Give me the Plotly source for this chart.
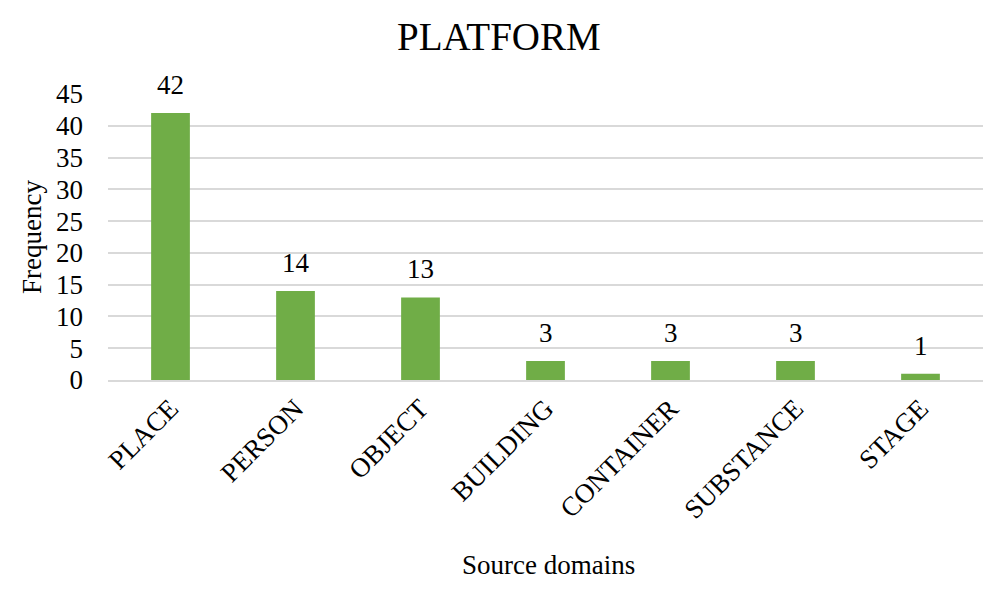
import plotly.graph_objects as go

categories = ["PLACE", "PERSON", "OBJECT", "BUILDING", "CONTAINER", "SUBSTANCE", "STAGE"]
frequency = [42, 14, 13, 3, 3, 3, 1]
y_ticks = [0, 5, 10, 15, 20, 25, 30, 35, 40, 45]

FONT = "Liberation Serif, Times New Roman, serif"
LBL = 27
OFF = 8  # page body margin of the browser

fig = go.Figure(go.Bar(
    x=categories, y=frequency,
    marker=dict(color="#70AD47", line=dict(width=0)),
    width=0.31,
))

plot_l, plot_r, plot_t, plot_b = 108, 983, 94, 380
plot_w = plot_r - plot_l
plot_h = plot_b - plot_t
annotations = [
    dict(text="PLATFORM", xref="paper", yref="paper", x=(499 - plot_l) / plot_w,
         y=1 + (plot_t - 37) / plot_h,
         xanchor="center", yanchor="middle", showarrow=False,
         font=dict(family=FONT, size=39, color="#000000")),
    dict(text="Frequency", xref="paper", yref="paper", x=(32 - plot_l) / plot_w, y=0.5,
         textangle=-90, xanchor="center", yanchor="middle", showarrow=False,
         font=dict(family=FONT, size=LBL, color="#000000")),
    dict(text="Source domains", xref="paper", yref="paper", x=(548 - plot_l) / plot_w,
         y=(plot_b - 565) / plot_h,
         xanchor="center", yanchor="middle", showarrow=False,
         font=dict(family=FONT, size=LBL, color="#000000")),
]
for c, v in zip(categories, frequency):
    annotations.append(dict(text=str(v), x=c, y=v, xref="x", yref="y",
                            xanchor="center", yanchor="bottom", yshift=11, showarrow=False,
                            font=dict(family=FONT, size=LBL, color="#000000")))

fig.update_layout(
    width=1004 - OFF, height=590 - OFF,
    paper_bgcolor="white", plot_bgcolor="white",
    margin=dict(l=plot_l - OFF, r=1004 - plot_r, t=plot_t - OFF, b=590 - plot_b),
    font=dict(family=FONT, size=LBL, color="#000000"),
    showlegend=False,
    xaxis=dict(
        tickangle=-45, showgrid=False, showline=True, linecolor="#D9D9D9", linewidth=2,
        ticks="", tickfont=dict(family=FONT, size=LBL, color="#000000"),
        automargin=False,
    ),
    yaxis=dict(
        range=[0, 45], tickvals=y_ticks, showgrid=True, gridcolor="#D9D9D9", gridwidth=2,
        zeroline=False, showline=False, ticks="", ticklabelstandoff=24,
        tickfont=dict(family=FONT, size=LBL, color="#000000"),
        automargin=False,
    ),
    annotations=annotations,
)

fig.write_html("out.html")
